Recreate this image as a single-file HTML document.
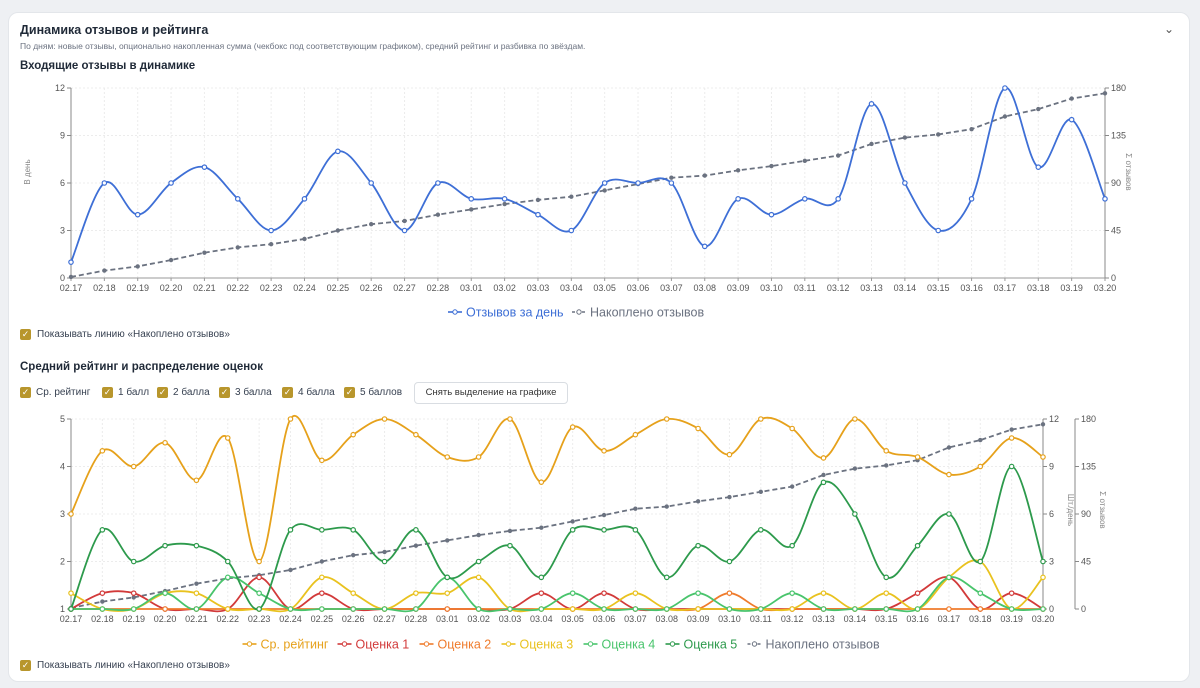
<!DOCTYPE html>
<html><head><meta charset="utf-8">
<style>
body{margin:0;width:1200px;height:688px;background:#eef0f3;font-family:"Liberation Sans",sans-serif;overflow:hidden;position:relative}
.card{position:absolute;left:8px;top:12px;width:1180px;height:668px;background:#fff;border:1px solid #e3e6ea;border-radius:10px}
.t{position:absolute;white-space:nowrap;color:#1f2937}
.cb{position:absolute;width:11px;height:11px;background:#b8962c;border-radius:2px;color:#fff;font-size:9px;line-height:11px;text-align:center}
.cbl{position:absolute;font-size:10px;color:#374151;white-space:nowrap}
svg{position:absolute;left:0;top:0}
</style></head><body>
<div class="card"></div>
<div class="t" style="left:20px;top:23px;font-size:12.5px;font-weight:bold">Динамика отзывов и рейтинга</div>
<div class="t" style="left:20px;top:41px;font-size:8.5px;color:#6b7280">По дням: новые отзывы, опционально накопленная сумма (чекбокс под соответствующим графиком), средний рейтинг и разбивка по звёздам.</div>
<div class="t" style="left:1164px;top:22px;font-size:12px;color:#555">⌄</div>
<div class="t" style="left:20px;top:60px;font-size:11.5px;font-weight:bold">Входящие отзывы в динамике</div>
<div class="cb" style="left:20px;top:329px">✓</div>
<div class="cbl" style="left:37px;top:329px">Показывать линию «Накоплено отзывов»</div>
<div class="t" style="left:20px;top:361px;font-size:11.5px;font-weight:bold">Средний рейтинг и распределение оценок</div>
<div class="cb" style="left:20px;top:387px">✓</div><div class="cbl" style="left:36px;top:387px">Ср. рейтинг</div>
<div class="cb" style="left:102px;top:387px">✓</div><div class="cbl" style="left:118px;top:387px">1 балл</div>
<div class="cb" style="left:157px;top:387px">✓</div><div class="cbl" style="left:173px;top:387px">2 балла</div>
<div class="cb" style="left:219px;top:387px">✓</div><div class="cbl" style="left:235px;top:387px">3 балла</div>
<div class="cb" style="left:282px;top:387px">✓</div><div class="cbl" style="left:298px;top:387px">4 балла</div>
<div class="cb" style="left:344px;top:387px">✓</div><div class="cbl" style="left:360px;top:387px">5 баллов</div>
<div class="t" style="left:414px;top:382px;width:152px;height:20px;border:1px solid #d9dde2;border-radius:4px;font-size:9.5px;line-height:20px;text-align:center;color:#333;background:#fff">Снять выделение на графике</div>
<div class="cb" style="left:20px;top:660px">✓</div>
<div class="cbl" style="left:37px;top:660px">Показывать линию «Накоплено отзывов»</div>
<svg id="s" width="1200" height="688"></svg>
<script>
const dates=["02.17","02.18","02.19","02.20","02.21","02.22","02.23","02.24","02.25","02.26","02.27","02.28","03.01","03.02","03.03","03.04","03.05","03.06","03.07","03.08","03.09","03.10","03.11","03.12","03.13","03.14","03.15","03.16","03.17","03.18","03.19","03.20"];
const daily=[1,6,4,6,7,5,3,5,8,6,3,6,5,5,4,3,6,6,6,2,5,4,5,5,11,6,3,5,12,7,10,5];
const avgRating=[3,4.33,4,4.5,3.71,4.6,2,5,4.13,4.67,5,4.67,4.2,4.2,5,3.67,4.83,4.33,4.67,5,4.8,4.25,5,4.8,4.18,5,4.33,4.2,3.83,4,4.6,4.2];
const star1=[0,1,1,0,0,0,2,0,1,0,0,0,0,0,0,1,0,1,0,0,0,0,0,0,0,0,0,1,2,0,1,0];
const star2=[0,0,0,0,0,0,0,0,0,0,0,0,0,0,0,0,0,0,0,0,0,1,0,0,0,0,0,0,0,0,0,0];
const star3=[1,0,0,1,1,0,0,0,2,1,0,1,1,2,0,0,0,0,1,0,0,0,0,0,1,0,1,0,2,3,0,2];
const star4=[0,0,0,1,0,2,1,0,0,0,0,0,2,0,0,0,1,0,0,0,1,0,0,1,0,0,0,0,2,1,0,0];
const star5=[0,5,3,4,4,3,0,5,5,5,3,5,2,3,4,2,5,5,5,2,4,3,5,4,8,6,2,4,6,3,9,3];
const ticksDay=[0,3,6,9,12];
const ticksCum=[0,45,90,135,180];
const ticksAvg=[1,2,3,4,5];
const cum=[];daily.reduce((a,v)=>{cum.push(a+v);return a+v},0);

const S=document.getElementById('s');const NS="http://www.w3.org/2000/svg";
function el(t,a,txt){const e=document.createElementNS(NS,t);for(const k in a)e.setAttribute(k,a[k]);if(txt!==undefined)e.textContent=txt;S.appendChild(e);return e;}
function path(pts){let d="M"+pts[0][0]+","+pts[0][1];for(let i=0;i<pts.length-1;i++){const p0=pts[i-1]||pts[i],p1=pts[i],p2=pts[i+1],p3=pts[i+2]||p2;const c1=[p1[0]+(p2[0]-p0[0])/6,p1[1]+(p2[1]-p0[1])/6],c2=[p2[0]-(p3[0]-p1[0])/6,p2[1]-(p3[1]-p1[1])/6];d+=` C${c1[0]},${c1[1]} ${c2[0]},${c2[1]} ${p2[0]},${p2[1]}`;}return d;}
function series(vals,xf,yf,color,name,smooth,dash){
 const pts=vals.map((v,i)=>[xf(i),yf(v)]);
 const p=el('path',{d:smooth?path(pts):"M"+pts.map(p=>p.join(",")).join("L"),fill:"none",stroke:color,"stroke-width":1.8,"stroke-dasharray":dash?"5,3":"none"});
 
 
 pts.forEach((q,i)=>{const c=el('circle',{cx:q[0],cy:q[1],r:dash?1.6:2.2,fill:dash?color:"#fff",stroke:color,"stroke-width":1.2});
 
 });
}
function xaxis(xf,y,name){dates.forEach((d,i)=>{el('line',{x1:xf(i),x2:xf(i),y1:y,y2:y+3,stroke:"#999"});const t=el('text',{x:xf(i),y:y+13,"font-size":9,fill:"#555","text-anchor":"middle"},d);
 
 });}
function vaxis(x,ticks,yf,side,name){el('line',{x1:x,x2:x,y1:yf(ticks[0]),y2:yf(ticks[ticks.length-1]),stroke:"#888"});ticks.forEach(v=>{el('line',{x1:x,x2:x+(side<0?-4:4),y1:yf(v),y2:yf(v),stroke:"#888"});const t=el('text',{x:x+(side<0?-6:6),y:yf(v)+3,"font-size":9,fill:"#555","text-anchor":side<0?"end":"start"},v);
 
 });}
function grid(xf,n,y0,y1,x0,x1,ys){for(let i=0;i<n;i++)el('line',{x1:xf(i),x2:xf(i),y1:y0,y2:y1,stroke:"#ececec","stroke-dasharray":"2,2"});ys.forEach(y=>el('line',{x1:x0,x2:x1,y1:y,y2:y,stroke:"#ececec","stroke-dasharray":"2,2"}));}
function rot(x,y,txt,name,a){const t=el('text',{x:x,y:y,"font-size":8,fill:"#888","text-anchor":"middle",transform:`rotate(${a||90} ${x} ${y})`},txt);
 
 }

// Chart 1
const X1=i=>71+i*(1105-71)/(dates.length-1);
const Y1=v=>278-v/12*190;const Y1c=v=>278-v/180*190;
grid(X1,dates.length,88,278,71,1105,ticksDay.map(Y1));
vaxis(71,ticksDay,Y1,-1,'chart1-left-axis');vaxis(1105,ticksCum,Y1c,1,'chart1-right-axis');
el('line',{x1:71,x2:1105,y1:278,y2:278,stroke:"#999"});
xaxis(X1,278,'chart1');
rot(30,172,"В день",'chart1-left-axis-title',-90);rot(1126,172,"Σ отзывов",'chart1-right-axis-title');
series(cum,X1,Y1c,"#6b7280","chart1-cumulative",false,true);
series(daily,X1,Y1,"#3e6fd6","chart1-daily",true,false);
function legend(items,y,cx){let tot=items.reduce((a,it)=>a+it[2],0);let x=cx-tot/2;items.forEach(it=>{el('line',{x1:x,x2:x+14,y1:y,y2:y,stroke:it[1],"stroke-width":1.6,"stroke-dasharray":it[3]?"3,2":"none"});el('circle',{cx:x+7,cy:y,r:2.2,fill:"#fff",stroke:it[1]});const t=el('text',{x:x+18,y:y+4.5,"font-size":12.5,fill:it[1]},it[0]);
 
 x+=it[2];});}
legend([["Отзывов за день","#3e6fd6",124],["Накоплено отзывов","#6b7280",140,1]],312,580);

// Chart 2
const X2=i=>71+i*(1043-71)/(dates.length-1);
const Y2=v=>609-(v-1)/4*190;const Y2d=v=>609-v/12*190;const Y2c=v=>609-v/180*190;
grid(X2,dates.length,419,609,71,1043,ticksAvg.map(Y2));
vaxis(71,ticksAvg,Y2,-1,'chart2-left-axis');vaxis(1043,ticksDay,Y2d,1,'chart2-right-axis');vaxis(1075,ticksCum,Y2c,1,'chart2-cum-axis');
el('line',{x1:71,x2:1043,y1:609,y2:609,stroke:"#999"});
xaxis(X2,609,'chart2');
rot(1068,510,"Шт./день",'chart2-right-axis-title');rot(1100,510,"Σ отзывов",'chart2-cum-axis-title');
series(cum,X2,Y2c,"#6b7280","chart2-cumulative",false,true);
series(star1,X2,Y2d,"#d23a3a","star1",true);
series(star2,X2,Y2d,"#ef7b2c","star2",true);
series(star3,X2,Y2d,"#e9c21f","star3",true);
series(star4,X2,Y2d,"#49c46c","star4",true);
series(star5,X2,Y2d,"#2d9a4c","star5",true);
series(avgRating,X2,Y2,"#e6a11b","avg-rating",true);
legend([["Ср. рейтинг","#e6a11b",95],["Оценка 1","#d23a3a",82],["Оценка 2","#ef7b2c",82],["Оценка 3","#e9c21f",82],["Оценка 4","#49c46c",82],["Оценка 5","#2d9a4c",82],["Накоплено отзывов","#6b7280",140,1]],644,565);
</script>
</body></html>
